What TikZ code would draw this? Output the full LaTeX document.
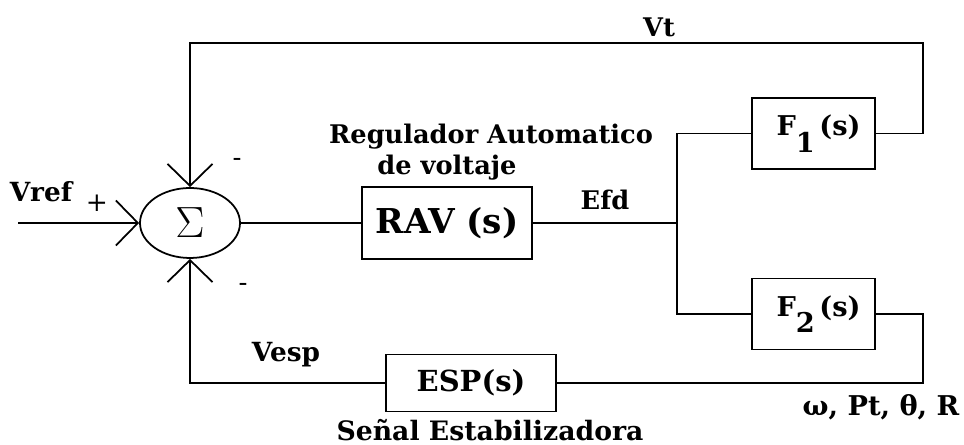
\documentclass[tikz,border=0pt]{standalone}
\usepackage{fontspec}
\newfontfamily\lblfont{DejaVu Serif}
\usepackage{tikz}
\usetikzlibrary{arrows.meta,shapes.geometric}

\begin{document}
\begin{tikzpicture}[
lbl/.style={font=\lblfont\fontsize{15}{18}\selectfont\bfseries,inner sep=1pt},
sgn/.style={font=\lblfont\fontsize{15}{18}\selectfont,inner sep=1pt},
blk/.style={draw,line width=1pt,minimum width=2.46cm,minimum height=1.42cm,font=\lblfont\fontsize{15.5}{18}\selectfont\bfseries},
sumnode/.style={ellipse,draw,line width=1pt,minimum width=2.0cm,minimum height=1.4cm,inner sep=0pt,font=\fontsize{26}{30}\selectfont},
wire/.style={line width=1pt},
arrow/.style={-{Straight Barb[length=4.4mm,width=9mm]},line width=1pt}]

\useasboundingbox (0,0) rectangle (19.28,8.9);

\node[sumnode] (S) at (3.80,4.44) {$\Sigma$};

\node[blk,minimum width=3.4cm,minimum height=1.44cm,font=\lblfont\fontsize{19.5}{22}\selectfont\bfseries] (RAV) at (8.94,4.44) {RAV (s)};

\node[blk] (F1) at (16.27,6.23) {\hspace{0.2cm}F\raisebox{-0.6em}{1}\,(s)};

\node[blk] (F2) at (16.27,2.62) {\hspace{0.2cm}F\raisebox{-0.6em}{2}\,(s)};

\node[blk,minimum width=3.4cm,minimum height=1.14cm,font=\lblfont\fontsize{16.5}{19}\selectfont\bfseries] (ESP) at (9.42,1.24) {ESP(s)};

\coordinate (in) at (0.36,4.44);
\coordinate (br) at (13.54,4.44);
\coordinate (tr) at (18.46,8.04);
\coordinate (br2) at (18.46,1.24);

% labels
\node[lbl] (vref) at (0.82,5.06) {Vref};
\node[sgn] (plus) at (1.94,4.84) {+};
\node[sgn] (m1) at (4.74,5.66) {-};
\node[sgn] (m2) at (4.86,3.16) {-};
\node[lbl,font=\lblfont\fontsize{14.6}{17}\selectfont\bfseries] (reg) at (9.82,6.16) {Regulador Automatico};
\node[lbl,font=\lblfont\fontsize{14.6}{17}\selectfont\bfseries] (volt) at (8.94,5.54) {de voltaje};
\node[lbl,font=\lblfont\fontsize{14.6}{17}\selectfont\bfseries] (efd) at (12.10,4.90) {Efd};
\node[lbl,font=\lblfont\fontsize{14.6}{17}\selectfont\bfseries] (vt) at (13.18,8.36) {Vt};
\node[lbl] (vesp) at (5.72,1.80) {Vesp};
\node[lbl,font=\lblfont\fontsize{15.2}{18}\selectfont\bfseries] (senal) at (9.80,0.30) {Señal Estabilizadora};
\node[lbl,font=\lblfont\fontsize{15.5}{18}\selectfont\bfseries] (sig) at (17.62,0.76) {ω, Pt, θ, R};

\draw[arrow] (in) -- (S.west);

\draw[wire] (S.east) -- (RAV.west);

\draw[wire] (RAV.east) -- (br);

\draw[wire] (F1.west) -| (br) |- (F2.west);

\draw[arrow] (F1.east) -| (tr) -| (S.north);

\draw[wire] (F2.east) -| (br2) -- (ESP.east);

\draw[arrow] (ESP.west) -| (S.south);

\end{tikzpicture}
\end{document}
